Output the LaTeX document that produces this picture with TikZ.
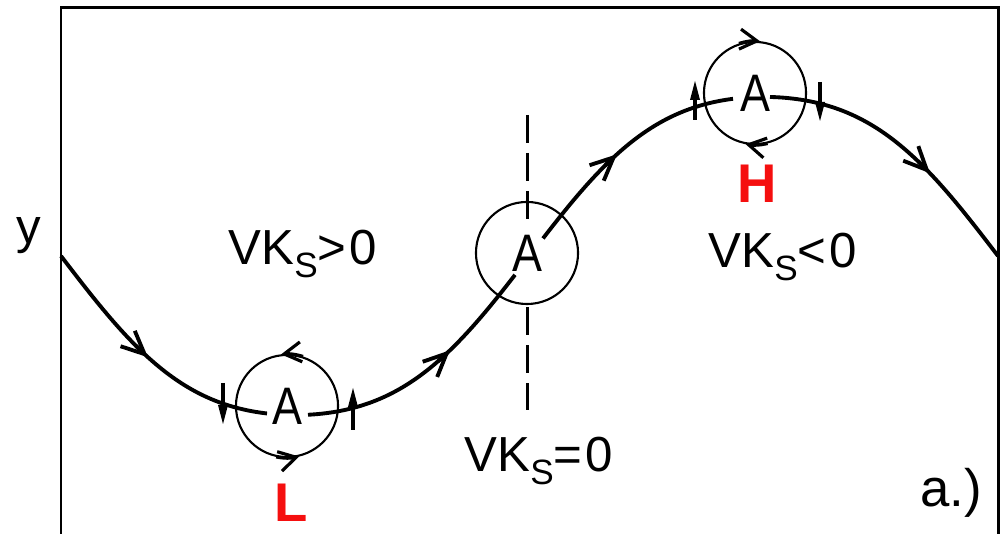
\documentclass[tikz,border=0pt]{standalone}
\usepackage{fontspec}
\setmainfont{Liberation Sans}
\newfontfamily\letterfont[FakeStretch=0.85]{Liberation Sans}
\usepackage{xcolor}
\usetikzlibrary{arrows.meta}
\definecolor{hotred}{RGB}{245,15,15}
\newcommand{\vks}[1]{VK\raisebox{-1.3mm}{\fontsize{10}{10}\selectfont S}#1\kern1pt 0}

\begin{document}
\begin{tikzpicture}[x=0.01cm,y=0.01cm,
    declare function={wy(\t)=278-168*(sin(0.3842*(\t-61))+0.053*sin(1.1526*(\t-61)));},
    >={Straight Barb[length=2.3mm,width=2.1mm]},
    wave/.style={line width=1.1pt, samples=60},
    ring/.style={circle, draw, line width=0.6pt, minimum size=1.02cm, inner sep=0pt,
      font=\letterfont\fontsize{15}{15}\selectfont},
    spin/.style={line width=0.9pt, -{Straight Barb[length=1.7mm,width=2mm]}},
    nudge/.style={line width=0.9pt, -{Triangle[length=2mm,width=0.9mm]}},
    cut/.style={line width=0.85pt, dash pattern=on 0.28cm off 0.1cm},
    lbl/.style={anchor=base, font=\fontsize{14}{14}\selectfont},
    hilo/.style={anchor=base, text=hotred, font=\fontsize{15.5}{15.5}\selectfont\bfseries}]
  \useasboundingbox (0,0) rectangle (1000,534);
  \draw[line width=0.85pt] (61,0) -- (61,526) -- (998,526) -- (998,0);

  \node[ring] (lo) at (287,128) {A};
  \node[ring] (mid) at (527,281) {A};
  \node[ring] (hi) at (755,441) {A};

  % curve, broken round each A
  \draw[wave] plot[domain=61:267] (\x,{wy(\x)});
  \draw[wave] plot[domain=308:515] (\x,{wy(\x)});
  \draw[wave] plot[domain=543:733] (\x,{wy(\x)});
  \draw[wave] plot[domain=770:998] (\x,{wy(\x)});
  \foreach \tip in {148,450,617,930}
    \draw[wave, samples=4, ->] plot[domain=\tip-12:\tip] (\x,{wy(\x)});

  \draw[cut] ([yshift=1.38cm]mid.center) -- ([yshift=0.33cm]mid.center);
  \draw[cut] ([yshift=-0.54cm]mid.center) -- ([yshift=-1.57cm]mid.center);

  \draw[spin] (lo.72) arc[start angle=72, end angle=97, radius=0.51cm];
  \draw[spin] (lo.-102) arc[start angle=-102, end angle=-76, radius=0.51cm];
  \draw[spin] (hi.108) arc[start angle=108, end angle=84, radius=0.51cm];
  \draw[spin] (hi.-76) arc[start angle=-76, end angle=-101, radius=0.51cm];

  \draw[nudge] ([shift={(-64,23)}]lo.center) -- ++(0,-42);
  \draw[nudge] ([shift={(66,-24)}]lo.center) -- ++(0,43);
  \draw[nudge] ([shift={(-60,-27)}]hi.center) -- ++(0,40);
  \draw[nudge] ([shift={(65,11)}]hi.center) -- ++(0,-40);

  \node[lbl] (ypos) at (303,269) {\vks{>}};
  \node[lbl] (yneg) at (783,266) {\vks{<}};
  \node[lbl] (yzero) at (539,62) {\vks{=}};
  \node[lbl] (yaxis) at (29,290) {y};
  \node[hilo] (low) at (291,12) {L};
  \node[hilo] (high) at (757,331) {H};
  \node[lbl, font=\fontsize{15}{15}\selectfont] (panel) at (951,27) {a.)};
\end{tikzpicture}
\end{document}
